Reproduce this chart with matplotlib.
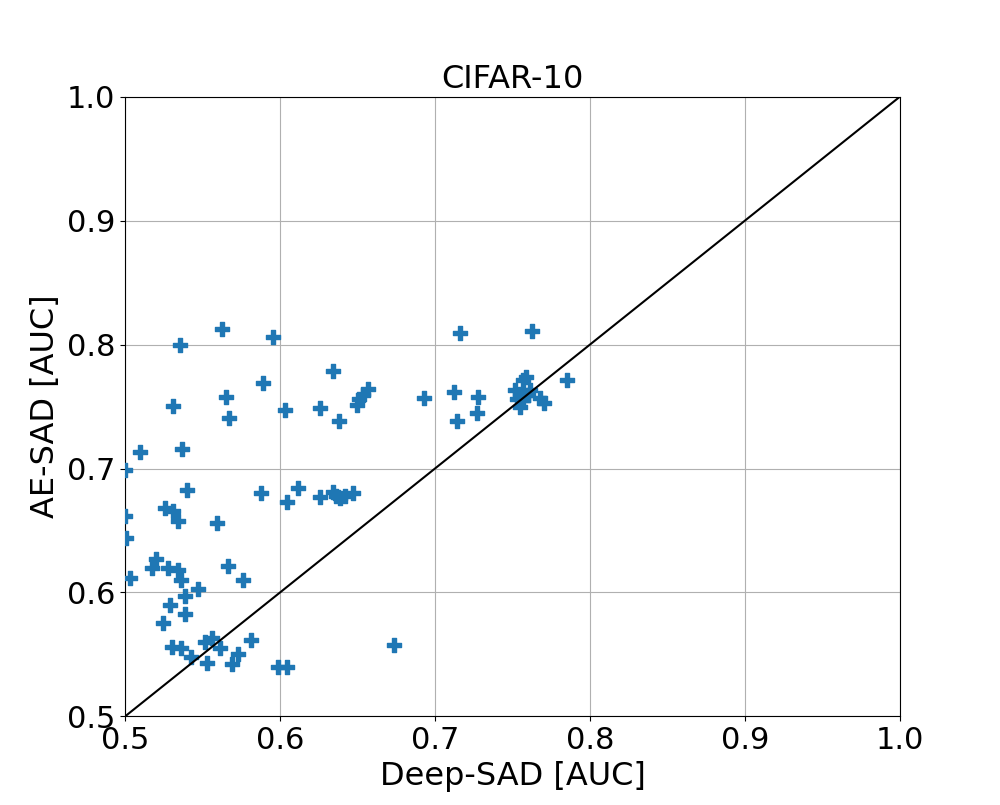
import matplotlib
matplotlib.use("Agg")
import matplotlib.pyplot as plt

deep_sad = [
    0.5355, 0.5626, 0.5955, 0.5890, 0.5310, 0.5650, 0.5670, 0.5097, 0.5370, 0.5000,
    0.5400, 0.5260, 0.5310, 0.5340, 0.5594, 0.5000, 0.5006, 0.5030, 0.5174, 0.5200,
    0.5280, 0.5340, 0.5360, 0.5470, 0.5387, 0.5290, 0.5387, 0.5245, 0.5665, 0.5760,
    0.5300, 0.5360, 0.5426, 0.5530, 0.5516, 0.5560, 0.5610, 0.5690, 0.5730, 0.5810,
    0.5987, 0.6045, 0.6045, 0.5880, 0.6116, 0.6030, 0.6340, 0.6570, 0.6535, 0.6510,
    0.6497, 0.6260, 0.6380, 0.6260, 0.6340, 0.6360, 0.6390, 0.6420, 0.6470, 0.6735,
    0.6930, 0.7120, 0.7280, 0.7270, 0.7140, 0.7160, 0.7626, 0.7850, 0.7587, 0.7568,
    0.7516, 0.7550, 0.7610, 0.7530, 0.7570, 0.7550, 0.7680, 0.7700, 0.7600,
]
ae_sad = [
    0.8000, 0.8126, 0.8060, 0.7690, 0.7505, 0.7580, 0.7410, 0.7130, 0.7160, 0.6990,
    0.6830, 0.6680, 0.6660, 0.6575, 0.6560, 0.6620, 0.6440, 0.6120, 0.6200, 0.6270,
    0.6200, 0.6180, 0.6100, 0.6030, 0.5970, 0.5900, 0.5830, 0.5750, 0.6210, 0.6100,
    0.5560, 0.5550, 0.5480, 0.5430, 0.5600, 0.5630, 0.5550, 0.5420, 0.5500, 0.5620,
    0.5400, 0.5400, 0.6730, 0.6800, 0.6840, 0.7470, 0.7790, 0.7640, 0.7590, 0.7560,
    0.7510, 0.7490, 0.7380, 0.6770, 0.6810, 0.6780, 0.6760, 0.6780, 0.6800, 0.5574,
    0.7570, 0.7620, 0.7580, 0.7450, 0.7380, 0.8090, 0.8110, 0.7710, 0.7740, 0.7710,
    0.7630, 0.7600, 0.7630, 0.7560, 0.7550, 0.7500, 0.7570, 0.7530, 0.7590,
]

fig, ax = plt.subplots(figsize=(10, 8.05), dpi=100)
ax.scatter(deep_sad, ae_sad, marker="P", s=110, color="#1f77b4", zorder=3)
ax.plot([0.5, 1.0], [0.5, 1.0], color="black", lw=1.5, zorder=4)
ax.set_xlim(0.5, 1.0)
ax.set_ylim(0.5, 1.0)
ax.grid(True)
ax.set_axisbelow(True)
ax.tick_params(labelsize=22)
ax.set_xlabel("Deep-SAD [AUC]", fontsize=23)
ax.set_ylabel("AE-SAD [AUC]", fontsize=23)
ax.set_title("CIFAR-10", fontsize=23)
fig.savefig("out.png", dpi=100)
